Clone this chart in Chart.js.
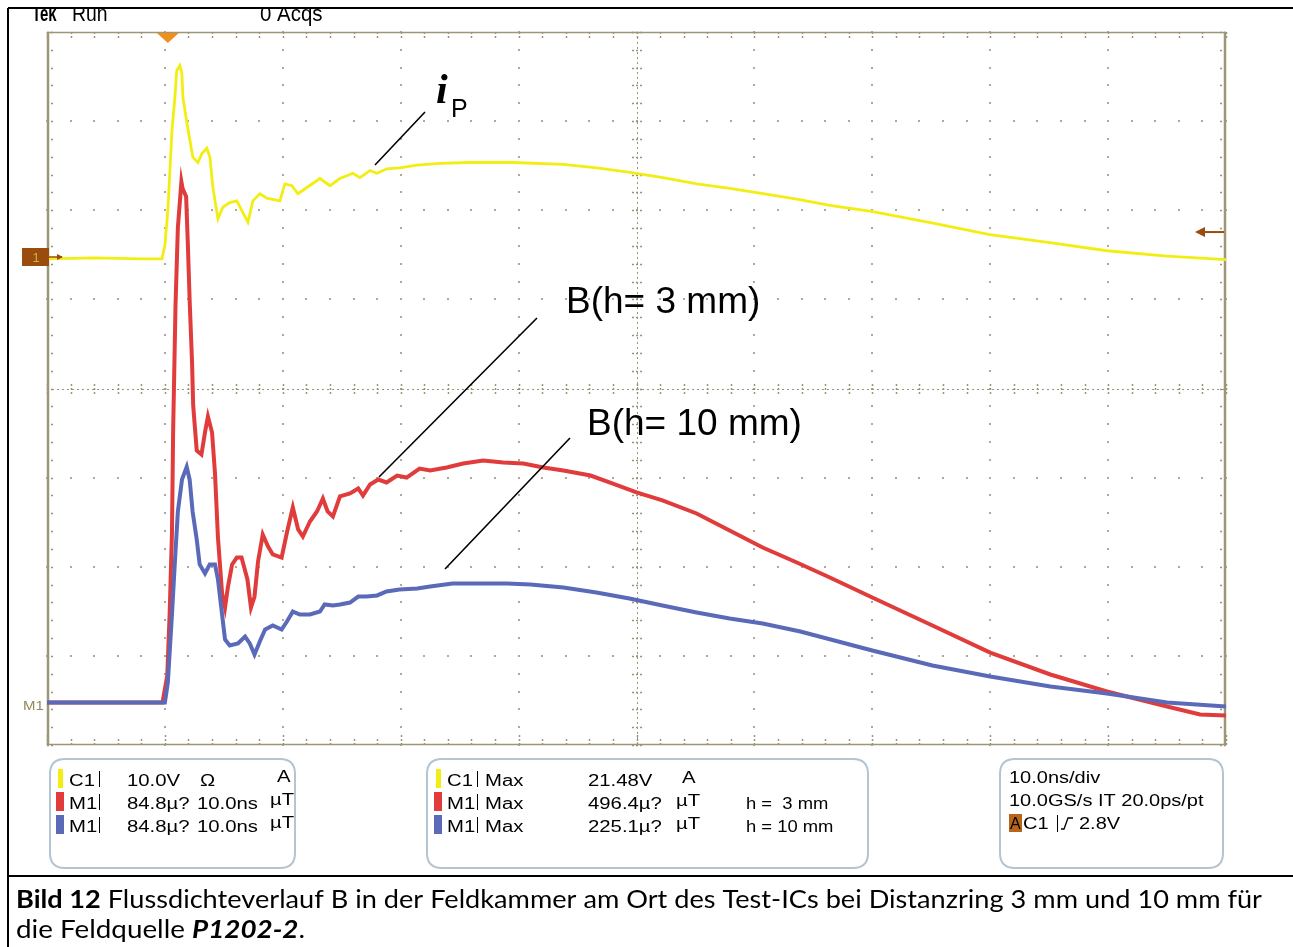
<!DOCTYPE html>
<html>
<head>
<meta charset="utf-8">
<script src="https://cdn.jsdelivr.net/npm/chart.js@4.4.1/dist/chart.umd.min.js"></script>
<style>
html,body{margin:0;padding:0;background:#fff;}
#wrap{position:relative;width:1293px;height:947px;overflow:hidden;}
canvas{display:block;}
</style>
</head>
<body>
<div id="wrap"><canvas id="c" width="1293" height="947"></canvas></div>
<script>
// ---- time base: ns (10 ns/div), trigger at 0 ----
const timeRange = [-10, 90];
const triggerTime = 0.25;
const triggerLevelC1 = 2.8;          // V
// ---- C1 : probe current (10.0 V/div) ----
const c1Time = [-10, -6, -2, -0.25, 0, 0.25, 0.6, 0.85, 1.0, 1.27, 1.44, 1.53, 1.87, 2.12, 2.37, 2.8, 3.14, 3.56, 3.82, 4.07, 4.5, 4.92, 5.5, 6.1, 6.53, 7.04, 7.46, 8.06, 8.65, 9.75, 10.18, 10.77, 11.28, 12.04, 13.15, 14.0, 14.84, 15.95, 16.54, 17.39, 17.98, 18.83, 19.93, 21.37, 23.33, 25.87, 29.52, 33.76, 36.64, 39.44, 42.24, 45.12, 47.92, 50.72, 53.6, 56.4, 60.05, 65.14, 69.97, 75.06, 79.9, 84.99, 90];
const c1Volts = [-0.2, -0.1, -0.2, -0.2, 1.3, 5.2, 14.2, 17.9, 20.9, 21.48, 20.6, 17.9, 15.0, 13.1, 11.2, 10.6, 11.6, 12.2, 11.2, 7.8, 4.3, 5.6, 6.1, 6.3, 5.2, 3.9, 6.3, 7.1, 6.6, 6.3, 8.2, 8.0, 7.1, 7.8, 8.8, 8.0, 8.8, 9.4, 8.9, 9.7, 9.4, 9.9, 10.0, 10.3, 10.5, 10.6, 10.6, 10.4, 10.0, 9.5, 8.9, 8.2, 7.7, 7.1, 6.5, 5.8, 5.1, 3.8, 2.5, 1.6, 0.7, 0.1, -0.3];
// ---- M1 : flux density, h = 3 mm (84.8 uT/div) ----
const bH3Time = [-10, -0.2, 0.2, 0.4, 0.6, 0.7, 0.9, 1.1, 1.4, 1.5, 1.8, 1.95, 2.1, 2.3, 2.4, 2.7, 3.1, 3.4, 3.65, 4.0, 4.25, 4.5, 4.85, 5.1, 5.35, 5.7, 6.1, 6.5, 7.0, 7.3, 7.6, 7.9, 8.3, 8.75, 9.15, 9.9, 10.35, 10.85, 11.3, 11.7, 12.3, 12.9, 13.4, 13.8, 14.25, 14.85, 15.7, 16.4, 16.8, 17.4, 18.1, 18.8, 19.7, 20.5, 21.6, 22.5, 23.9, 25.3, 27.0, 28.7, 30.4, 32.1, 33.8, 36.1, 38.0, 40.0, 42.2, 45.1, 47.9, 50.7, 53.6, 56.4, 60.0, 65.1, 70.0, 75.1, 79.9, 85.0, 87.8, 90];
const bH3 = [1, 1, 26.6, 84.7, 162.7, 260.7, 378.7, 452.9, 496.4, 490, 482.4, 435.8, 383.4, 325.4, 283.5, 240.7, 236.9, 257.9, 273.1, 257.9, 218.8, 157.9, 104.7, 91.3, 111.3, 132.3, 138.9, 138.9, 118.0, 91.3, 101.8, 135.1, 160.8, 149.4, 141.8, 138.9, 162.7, 186.5, 165.6, 158.9, 173.2, 182.7, 195.1, 182.7, 177.9, 197.0, 199.8, 204.6, 197.9, 208.4, 213.1, 210.3, 216.9, 215.0, 223.6, 221.7, 224.5, 228.4, 231.2, 229.3, 228.4, 224.5, 221.7, 216.9, 209.3, 200.8, 193.2, 180.8, 164.6, 148.4, 134.2, 119.9, 100.9, 74.2, 48.5, 27.6, 11.4, -2.9, -10.5, -11.4];
// ---- M1 : flux density, h = 10 mm ----
const bH10Time = [-10, 0, 0.25, 0.6, 0.85, 1.1, 1.45, 1.85, 2.1, 2.35, 2.7, 2.95, 3.4, 3.8, 4.25, 4.5, 4.85, 5.1, 5.5, 6.2, 6.8, 7.2, 7.6, 8.05, 8.5, 9.15, 9.9, 10.35, 10.85, 11.45, 12.3, 13.15, 13.55, 14.25, 14.85, 15.7, 16.4, 17.1, 18.0, 18.8, 19.9, 21.4, 22.5, 24.4, 26.7, 29.0, 31.0, 33.8, 36.6, 39.4, 42.2, 45.1, 47.9, 50.7, 53.9, 60.0, 65.1, 70.0, 75.1, 79.9, 85.0, 90];
const bH10 = [1, 1, 20, 84.7, 135.1, 182.7, 213.1, 225.1, 213.1, 182.7, 156.0, 132.3, 123.7, 132.3, 132.3, 118.0, 84.7, 60.9, 55.2, 57.1, 63.7, 57.1, 46.6, 59.0, 70.4, 74.2, 70.4, 78.0, 87.5, 84.7, 84.7, 87.5, 94.2, 93.2, 94.2, 96.1, 101.8, 101.8, 102.8, 106.6, 108.5, 109.4, 111.3, 114.2, 114.2, 114.2, 113.2, 110.4, 105.6, 99.9, 93.2, 86.6, 80.9, 76.1, 68.5, 50.4, 36.2, 25.7, 16.2, 9.5, 1.0, -2.9];
// ---- vertical settings (scope) ----
const c1VoltsPerDiv = 10.0, c1OffsetDiv = 1.4755;   // C1 ground 1.48 div above centre
const m1UTPerDiv = 84.8,   m1OffsetDiv = -3.5344;   // M1 ground 3.53 div below centre
// ---- read-out texts ----
const box1Rows = [
  {color:'#f2ee14', ch:'C1', a:'10.0V', b:'\u03A9', unit:'A'},
  {color:'#e03c3c', ch:'M1', a:'84.8\u00B5?', b:'10.0ns', unit:'\u00B5T'},
  {color:'#5a6ab8', ch:'M1', a:'84.8\u00B5?', b:'10.0ns', unit:'\u00B5T'}
];
const box2Rows = [
  {color:'#f2ee14', ch:'C1', m:'Max', v:'21.48V', unit:'A', note:''},
  {color:'#e03c3c', ch:'M1', m:'Max', v:'496.4\u00B5?', unit:'\u00B5T', note:'h =  3 mm'},
  {color:'#5a6ab8', ch:'M1', m:'Max', v:'225.1\u00B5?', unit:'\u00B5T', note:'h = 10 mm'}
];
const box3Rows = ['10.0ns/div', '10.0GS/s IT 20.0ps/pt'];
const triggerText = ['A', 'C1', '2.8V'];
const labelH3 = 'B(h= 3 mm)', labelH10 = 'B(h= 10 mm)';
const captionLine1 = [['bold', 'Bild 12'], ['normal', ' Flussdichteverlauf B in der Feldkammer am Ort des Test-ICs bei Distanzring 3 mm und 10 mm für']];
const captionLine2 = [['normal', 'die Feldquelle '], ['italic bold', 'P1202-2'], ['normal', '.']];

const toPts = (xs, ys) => xs.map((x, i) => ({x, y: ys[i]}));
const axisLimits = (perDiv, off) => ({min: (-4 - off) * perDiv, max: (4 - off) * perDiv});

function sText(ctx, str, x, y, font, color, sx) {
  ctx.save(); ctx.font = font; ctx.fillStyle = color; ctx.textBaseline = 'alphabetic';
  ctx.translate(x, y); ctx.scale(sx, 1); ctx.fillText(str, 0, 0); ctx.restore();
}
function roundRect(ctx, x, y, w, h, r) {
  ctx.beginPath();
  ctx.moveTo(x + r, y); ctx.lineTo(x + w - r, y); ctx.quadraticCurveTo(x + w, y, x + w, y + r);
  ctx.lineTo(x + w, y + h - r); ctx.quadraticCurveTo(x + w, y + h, x + w - r, y + h);
  ctx.lineTo(x + r, y + h); ctx.quadraticCurveTo(x, y + h, x, y + h - r);
  ctx.lineTo(x, y + r); ctx.quadraticCurveTo(x, y, x + r, y); ctx.closePath();
}

const scopeGrid = {
  id: 'scopeGrid',
  beforeDatasetsDraw(chart) {
    const ctx = chart.ctx, xs = chart.scales.x, ys = chart.scales.yDiv;
    const L = xs.left, R = xs.right, T = ys.top, B = ys.bottom;
    const xMinor = [], yMinor = [], xMajor = [], yMajor = [];
    for (let i = 0; i <= 50; i++) xMinor.push(Math.round(xs.getPixelForValue(-10 + i * 2)));
    for (let i = 0; i <= 40; i++) yMinor.push(Math.round(ys.getPixelForValue(-4 + i * 0.2)));
    for (let i = 0; i <= 10; i++) xMajor.push(Math.round(xs.getPixelForValue(-10 + i * 10)));
    for (let i = 0; i <= 8; i++) yMajor.push(Math.round(ys.getPixelForValue(-4 + i)));
    ctx.save();
    ctx.fillStyle = '#aeaa9a';
    for (let j = 1; j < 8; j++) { if (j === 4) continue; const y = yMajor[j];
      xMinor.forEach(x => ctx.fillRect(x - 1, y - 1, 2, 2)); }
    for (let i = 1; i < 10; i++) { if (i === 5) continue; const x = xMajor[i];
      yMinor.forEach(y => ctx.fillRect(x - 1, y - 1, 2, 2)); }
    const cx = xMajor[5], cy = yMajor[4];
    ctx.strokeStyle = '#9a9474'; ctx.lineWidth = 1;
    ctx.setLineDash([2, 3]);
    ctx.beginPath(); ctx.moveTo(L, cy + 0.5); ctx.lineTo(R, cy + 0.5); ctx.stroke();
    ctx.beginPath(); ctx.moveTo(cx + 0.5, T); ctx.lineTo(cx + 0.5, B); ctx.stroke();
    ctx.setLineDash([2, 2]);
    ctx.lineWidth = 1.5;
    xMinor.forEach(x => { ctx.beginPath(); ctx.moveTo(x + 0.5, cy - 5); ctx.lineTo(x + 0.5, cy + 6); ctx.stroke(); });
    yMinor.forEach(y => { ctx.beginPath(); ctx.moveTo(cx - 5, y + 0.5); ctx.lineTo(cx + 6, y + 0.5); ctx.stroke(); });
    xMinor.forEach((x, i) => { const len = i % 5 === 0 ? 10 : 7;
      ctx.beginPath(); ctx.moveTo(x + 0.5, T); ctx.lineTo(x + 0.5, T + 6); ctx.stroke();
      ctx.beginPath(); ctx.moveTo(x + 0.5, B); ctx.lineTo(x + 0.5, B - len); ctx.stroke(); });
    yMinor.forEach(y => {
      ctx.beginPath(); ctx.moveTo(L, y + 0.5); ctx.lineTo(L + 7, y + 0.5); ctx.stroke();
      ctx.beginPath(); ctx.moveTo(R, y + 0.5); ctx.lineTo(R - 7, y + 0.5); ctx.stroke(); });
    ctx.setLineDash([]);
    ctx.strokeStyle = '#9d9677';
    ctx.lineWidth = 1.5;
    ctx.beginPath(); ctx.moveTo(L, T + 0.5); ctx.lineTo(R, T + 0.5); ctx.moveTo(L, B - 0.5); ctx.lineTo(R, B - 0.5); ctx.stroke();
    ctx.lineWidth = 2.5;
    ctx.beginPath(); ctx.moveTo(L + 1, T); ctx.lineTo(L + 1, B); ctx.moveTo(R - 1, T); ctx.lineTo(R - 1, B); ctx.stroke();
    ctx.restore();
  },
  afterDraw(chart) {
    const ctx = chart.ctx, xs = chart.scales.x, yC = chart.scales.yC, yM = chart.scales.yM;
    const L = xs.left, R = xs.right, T = chart.chartArea.top;
    ctx.save();
    // trigger position marker
    const tx = xs.getPixelForValue(triggerTime);
    ctx.fillStyle = '#ef8f20';
    ctx.beginPath(); ctx.moveTo(tx - 11, T + 1); ctx.lineTo(tx + 11, T + 1); ctx.lineTo(tx, T + 11); ctx.closePath(); ctx.fill();
    // C1 ground marker
    const g1 = yC.getPixelForValue(0);
    ctx.fillStyle = '#9a4c0e'; ctx.fillRect(22, g1 - 9, 27, 18);
    ctx.fillStyle = '#c9b23c'; ctx.font = '13px "Liberation Sans"'; ctx.textAlign = 'center';
    ctx.fillText('1', 36, g1 + 5); ctx.textAlign = 'left';
    ctx.strokeStyle = '#9a4c0e'; ctx.lineWidth = 1.5;
    ctx.beginPath(); ctx.moveTo(49, g1); ctx.lineTo(62, g1); ctx.stroke();
    ctx.fillStyle = '#9a4c0e';
    ctx.beginPath(); ctx.moveTo(63, g1); ctx.lineTo(57, g1 - 3); ctx.lineTo(57, g1 + 3); ctx.closePath(); ctx.fill();
    // M1 ground marker
    const gm = yM.getPixelForValue(0);
    sText(ctx, 'M1', 23, gm + 6, '13px "Liberation Sans"', '#958858', 1.15);
    // trigger level arrow
    const tl = yC.getPixelForValue(triggerLevelC1);
    ctx.strokeStyle = '#9a4c0e'; ctx.lineWidth = 2;
    ctx.beginPath(); ctx.moveTo(R - 2, tl); ctx.lineTo(R - 24, tl); ctx.stroke();
    ctx.beginPath(); ctx.moveTo(R - 31, tl); ctx.lineTo(R - 21, tl - 5); ctx.lineTo(R - 21, tl + 5); ctx.closePath(); ctx.fill();

    // annotations
    ctx.strokeStyle = '#000'; ctx.lineWidth = 1.6;
    ctx.beginPath();
    ctx.moveTo(375, 165); ctx.lineTo(425, 112);
    ctx.moveTo(379, 477); ctx.lineTo(537, 318);
    ctx.moveTo(445, 569); ctx.lineTo(570, 438);
    ctx.stroke();
    ctx.fillStyle = '#000';
    ctx.font = 'italic bold 42px "Liberation Serif"'; ctx.fillText('i', 436, 103);
    ctx.font = '25px "Liberation Sans"'; ctx.fillText('P', 451, 117);
    ctx.font = '37px "Liberation Sans"';
    ctx.fillText(labelH3, 566, 313);
    ctx.fillText(labelH10, 587, 435);

    // header (partly hidden under the frame line, as in the screenshot)
    ctx.save();
    ctx.beginPath(); ctx.rect(0, 9, 1293, 25); ctx.clip();
    sText(ctx, 'Tek', 32, 21, 'bold 22px "Liberation Sans"', '#000', 0.68);
    sText(ctx, 'Run', 72, 21, '22px "Liberation Sans"', '#000', 0.88);
    sText(ctx, '0 Acqs', 260, 21, '22px "Liberation Sans"', '#000', 0.93);
    ctx.restore();

    // read-out boxes
    ctx.strokeStyle = '#b3c4d3'; ctx.lineWidth = 2;
    roundRect(ctx, 50, 759, 245, 109, 15); ctx.stroke();
    roundRect(ctx, 427, 759, 441, 109, 15); ctx.stroke();
    roundRect(ctx, 1000, 759, 223, 109, 15); ctx.stroke();
    const F = '16px "Liberation Sans"', SX = 1.27;
    const rowY = [786, 809, 832];
    box1Rows.forEach((r, i) => {
      const y = rowY[i];
      ctx.fillStyle = r.color; ctx.fillRect(i === 0 ? 58 : 56, y - 17, i === 0 ? 5 : 8, 19);
      sText(ctx, r.ch, 69, y, F, '#000', SX);
      ctx.fillStyle = '#000'; ctx.fillRect(99, y - 15, 1, 16);
      sText(ctx, r.a, 127, y, F, '#000', SX);
      sText(ctx, r.b, i === 0 ? 200 : 197, y, F, '#000', SX);
      sText(ctx, r.unit, i === 0 ? 277 : 270, y - 4, F, '#000', SX);
    });
    box2Rows.forEach((r, i) => {
      const y = rowY[i];
      ctx.fillStyle = r.color; ctx.fillRect(i === 0 ? 436 : 434, y - 17, i === 0 ? 5 : 8, 19);
      sText(ctx, r.ch, 447, y, F, '#000', SX);
      ctx.fillStyle = '#000'; ctx.fillRect(477, y - 15, 1, 16);
      sText(ctx, r.m, 485, y, F, '#000', SX);
      sText(ctx, r.v, 588, y, F, '#000', SX);
      sText(ctx, r.unit, i === 0 ? 682 : 676, y - 3, F, '#000', SX);
      if (r.note) sText(ctx, r.note, 746, y, F, '#000', 1.15);
    });
    box3Rows.forEach((s, i) => sText(ctx, s, 1009, rowY[i] - 3, F, '#000', 1.25));
    const y3 = rowY[2] - 3;
    ctx.fillStyle = '#b8651c'; ctx.fillRect(1009, y3 - 15, 13, 18);
    sText(ctx, triggerText[0], 1010, y3, F, '#000', 1.0);
    sText(ctx, triggerText[1], 1023, y3, F, '#000', 1.25);
    ctx.fillStyle = '#000'; ctx.fillRect(1057, y3 - 14, 1, 17);
    ctx.strokeStyle = '#000'; ctx.lineWidth = 1.3;
    ctx.beginPath(); ctx.moveTo(1061, y3); ctx.lineTo(1064, y3); ctx.lineTo(1068, y3 - 11); ctx.lineTo(1073, y3 - 11); ctx.stroke();
    sText(ctx, triggerText[2], 1079, y3, F, '#000', 1.25);

    // page frame
    ctx.strokeStyle = '#000'; ctx.lineWidth = 2;
    ctx.beginPath();
    ctx.moveTo(8, 8); ctx.lineTo(1293, 8);
    ctx.moveTo(8, 8); ctx.lineTo(8, 947);
    ctx.moveTo(8, 876); ctx.lineTo(1293, 876);
    ctx.stroke();

    // caption
    const capFam = 'Lato', capSize = 25;
    const measure = runs => runs.reduce((w, r) => { ctx.font = `${r[0]} ${capSize}px ${capFam}`; return w + ctx.measureText(r[1]).width; }, 0);
    const drawRuns = (runs, x, y, width) => {
      const csx = width / measure(runs);
      ctx.save(); ctx.translate(x, y); ctx.scale(csx, 1); ctx.fillStyle = '#000';
      let cx0 = 0;
      runs.forEach(r => { ctx.font = `${r[0]} ${capSize}px ${capFam}`; ctx.fillText(r[1], cx0, 0); cx0 += ctx.measureText(r[1]).width; });
      ctx.restore();
    };
    drawRuns(captionLine1, 16, 908, 1246);
    drawRuns(captionLine2, 16, 938, 289);
    ctx.restore();
  }
};

const c1Lim = axisLimits(c1VoltsPerDiv, c1OffsetDiv);
const m1Lim = axisLimits(m1UTPerDiv, m1OffsetDiv);

new Chart(document.getElementById('c'), {
  type: 'line',
  data: {
    datasets: [
      {label: 'C1 i_P', data: toPts(c1Time, c1Volts), yAxisID: 'yC', borderColor: '#f2ee14', borderWidth: 2.8, order: 2},
      {label: 'M1 h=3 mm', data: toPts(bH3Time, bH3), yAxisID: 'yM', borderColor: '#e03c3c', borderWidth: 4, order: 1},
      {label: 'M1 h=10 mm', data: toPts(bH10Time, bH10), yAxisID: 'yM', borderColor: '#5a6ab8', borderWidth: 4, order: 0}
    ]
  },
  options: {
    responsive: false, animation: false, devicePixelRatio: 1,
    layout: {padding: {left: 47, top: 32, right: 67, bottom: 202}},
    elements: {point: {radius: 0}, line: {tension: 0, borderJoinStyle: 'miter', fill: false}},
    plugins: {legend: {display: false}, tooltip: {enabled: false}},
    scales: {
      x: {type: 'linear', min: timeRange[0], max: timeRange[1], display: false},
      yC: {type: 'linear', min: c1Lim.min, max: c1Lim.max, display: false},
      yM: {type: 'linear', min: m1Lim.min, max: m1Lim.max, display: false},
      yDiv: {type: 'linear', min: -4, max: 4, display: false}
    }
  },
  plugins: [scopeGrid]
});
</script>
</body>
</html>
